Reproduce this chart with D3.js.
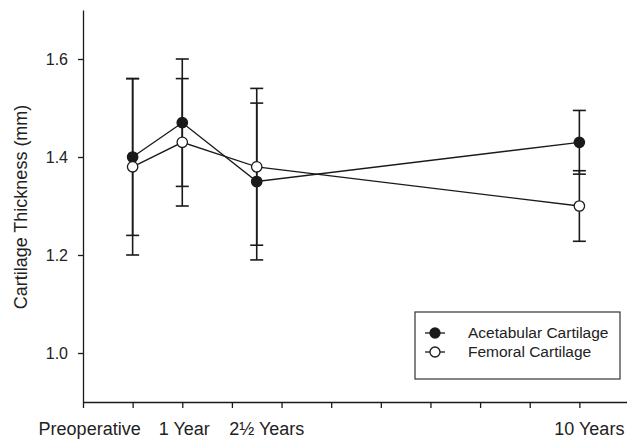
<!DOCTYPE html>
<html>
<head>
<meta charset="utf-8">
<script src="https://cdn.jsdelivr.net/npm/d3@7"></script>
<style>
  body { margin: 0; background: #fff; }
  svg { display: block; font-family: "Liberation Sans", Arial, sans-serif; }
</style>
</head>
<body>
<div id="chart"></div>
<script>
// timepoints (x position in the plot's own units) and their labels
var timeLabels = ["Preoperative", "1 Year", "2\u00bd Years", "10 Years"]
var timeX = [0, 1, 2.5, 9]

// mean cartilage thickness (mm) and error (SD) at each timepoint
var acetMean = [1.40, 1.47, 1.35, 1.43]
var acetErr = [0.16, 0.13, 0.16, 0.065]
var femMean = [1.38, 1.43, 1.38, 1.30]
var femErr = [0.18, 0.13, 0.16, 0.072]

var yTicks = [1.0, 1.2, 1.4, 1.6]
var seriesNames = ["Acetabular Cartilage", "Femoral Cartilage"]

var width = 627, height = 442
var ink = "#1a1a1a"

var svg = d3.select("#chart").append("svg")
    .attr("width", width)
    .attr("height", height)

var x = d3.scaleLinear().domain([-1, 10]).range([83, 629])
var y = d3.scaleLinear().domain([0.9, 1.7]).range([402, 10])

// axes
var yAxis = d3.axisLeft(y)
    .tickValues(yTicks)
    .tickSize(5)
    .tickSizeOuter(0)
    .tickFormat(d3.format(".1f"))

var gy = svg.append("g")
    .attr("transform", "translate(" + x(-1) + ",0)")
    .call(yAxis)
gy.select(".domain").attr("stroke", ink).attr("stroke-width", 1.3)
gy.selectAll(".tick line").attr("stroke", ink).attr("stroke-width", 1.3)
gy.selectAll(".tick text")
    .attr("x", -15)
    .attr("fill", "#222")
    .style("font-size", "16px")
    .style("font-family", "Liberation Sans, Arial, sans-serif")

var xAxis = d3.axisBottom(x)
    .tickValues(d3.range(-1, 10))
    .tickSize(6)
    .tickSizeOuter(0)
    .tickFormat("")

var gx = svg.append("g")
    .attr("transform", "translate(0," + y(0.9) + ")")
    .call(xAxis)
gx.select(".domain").attr("stroke", ink).attr("stroke-width", 1.3)
gx.selectAll(".tick line").attr("stroke", ink).attr("stroke-width", 1.3)

// x labels sit near, but not exactly under, the timepoints
var labelNudge = [-43, 2, 10, 10]
svg.selectAll(".xlab")
    .data(timeLabels)
  .enter().append("text")
    .attr("class", "xlab")
    .attr("x", function(d, i) { return x(timeX[i]) + labelNudge[i] })
    .attr("y", 435)
    .attr("text-anchor", "middle")
    .attr("fill", "#222")
    .style("font-size", "18px")
    .text(function(d) { return d })

// y axis title
svg.append("text")
    .attr("transform", "translate(27," + 207 + ") rotate(-90)")
    .attr("text-anchor", "middle")
    .attr("fill", "#222")
    .style("font-size", "18px")
    .text("Cartilage Thickness (mm)")

var series = [
  {name: seriesNames[0], mean: acetMean, err: acetErr, fill: ink},
  {name: seriesNames[1], mean: femMean, err: femErr, fill: "#fff"}
]

var line = d3.line()
    .x(function(d) { return x(d.t) })
    .y(function(d) { return y(d.v) })

series.forEach(function(s) {
  s.pts = s.mean.map(function(v, i) { return {t: timeX[i], v: v, e: s.err[i]} })
})

// connecting lines
series.forEach(function(s) {
  svg.append("path")
      .datum(s.pts)
      .attr("d", line)
      .attr("fill", "none")
      .attr("stroke", ink)
      .attr("stroke-width", 1.3)
})

// error bars
var cap = 6.5
series.forEach(function(s) {
  var g = svg.append("g")
  s.pts.forEach(function(p) {
    var cx = x(p.t)
    g.append("line")
        .attr("x1", cx).attr("x2", cx)
        .attr("y1", y(p.v + p.e)).attr("y2", y(p.v - p.e))
        .attr("stroke", ink).attr("stroke-width", 1.6)
    ;[p.v + p.e, p.v - p.e].forEach(function(v) {
      g.append("line")
          .attr("x1", cx - cap).attr("x2", cx + cap)
          .attr("y1", y(v)).attr("y2", y(v))
          .attr("stroke", ink).attr("stroke-width", 1.6)
    })
  })
})

// markers
series.forEach(function(s) {
  svg.selectAll(null)
      .data(s.pts)
    .enter().append("circle")
      .attr("cx", function(d) { return x(d.t) })
      .attr("cy", function(d) { return y(d.v) })
      .attr("r", 5.2)
      .attr("fill", s.fill)
      .attr("stroke", ink)
      .attr("stroke-width", 1.3)
})

// legend
var legend = svg.append("g").attr("transform", "translate(415,312)")
legend.append("rect")
    .attr("x", 0).attr("y", 0)
    .attr("width", 205).attr("height", 67)
    .attr("fill", "#fff")
    .attr("stroke", "#333")
    .attr("stroke-width", 1.2)

series.forEach(function(s, i) {
  var ly = 21 + i * 19
  legend.append("line")
      .attr("x1", 10).attr("x2", 30)
      .attr("y1", ly).attr("y2", ly)
      .attr("stroke", ink).attr("stroke-width", 1.3)
  legend.append("circle")
      .attr("cx", 20).attr("cy", ly).attr("r", 5)
      .attr("fill", s.fill)
      .attr("stroke", ink).attr("stroke-width", 1.3)
  legend.append("text")
      .attr("x", 53).attr("y", ly)
      .attr("dy", "0.35em")
      .attr("fill", "#222")
      .style("font-size", "15.5px")
      .text(s.name)
})
</script>
</body>
</html>
